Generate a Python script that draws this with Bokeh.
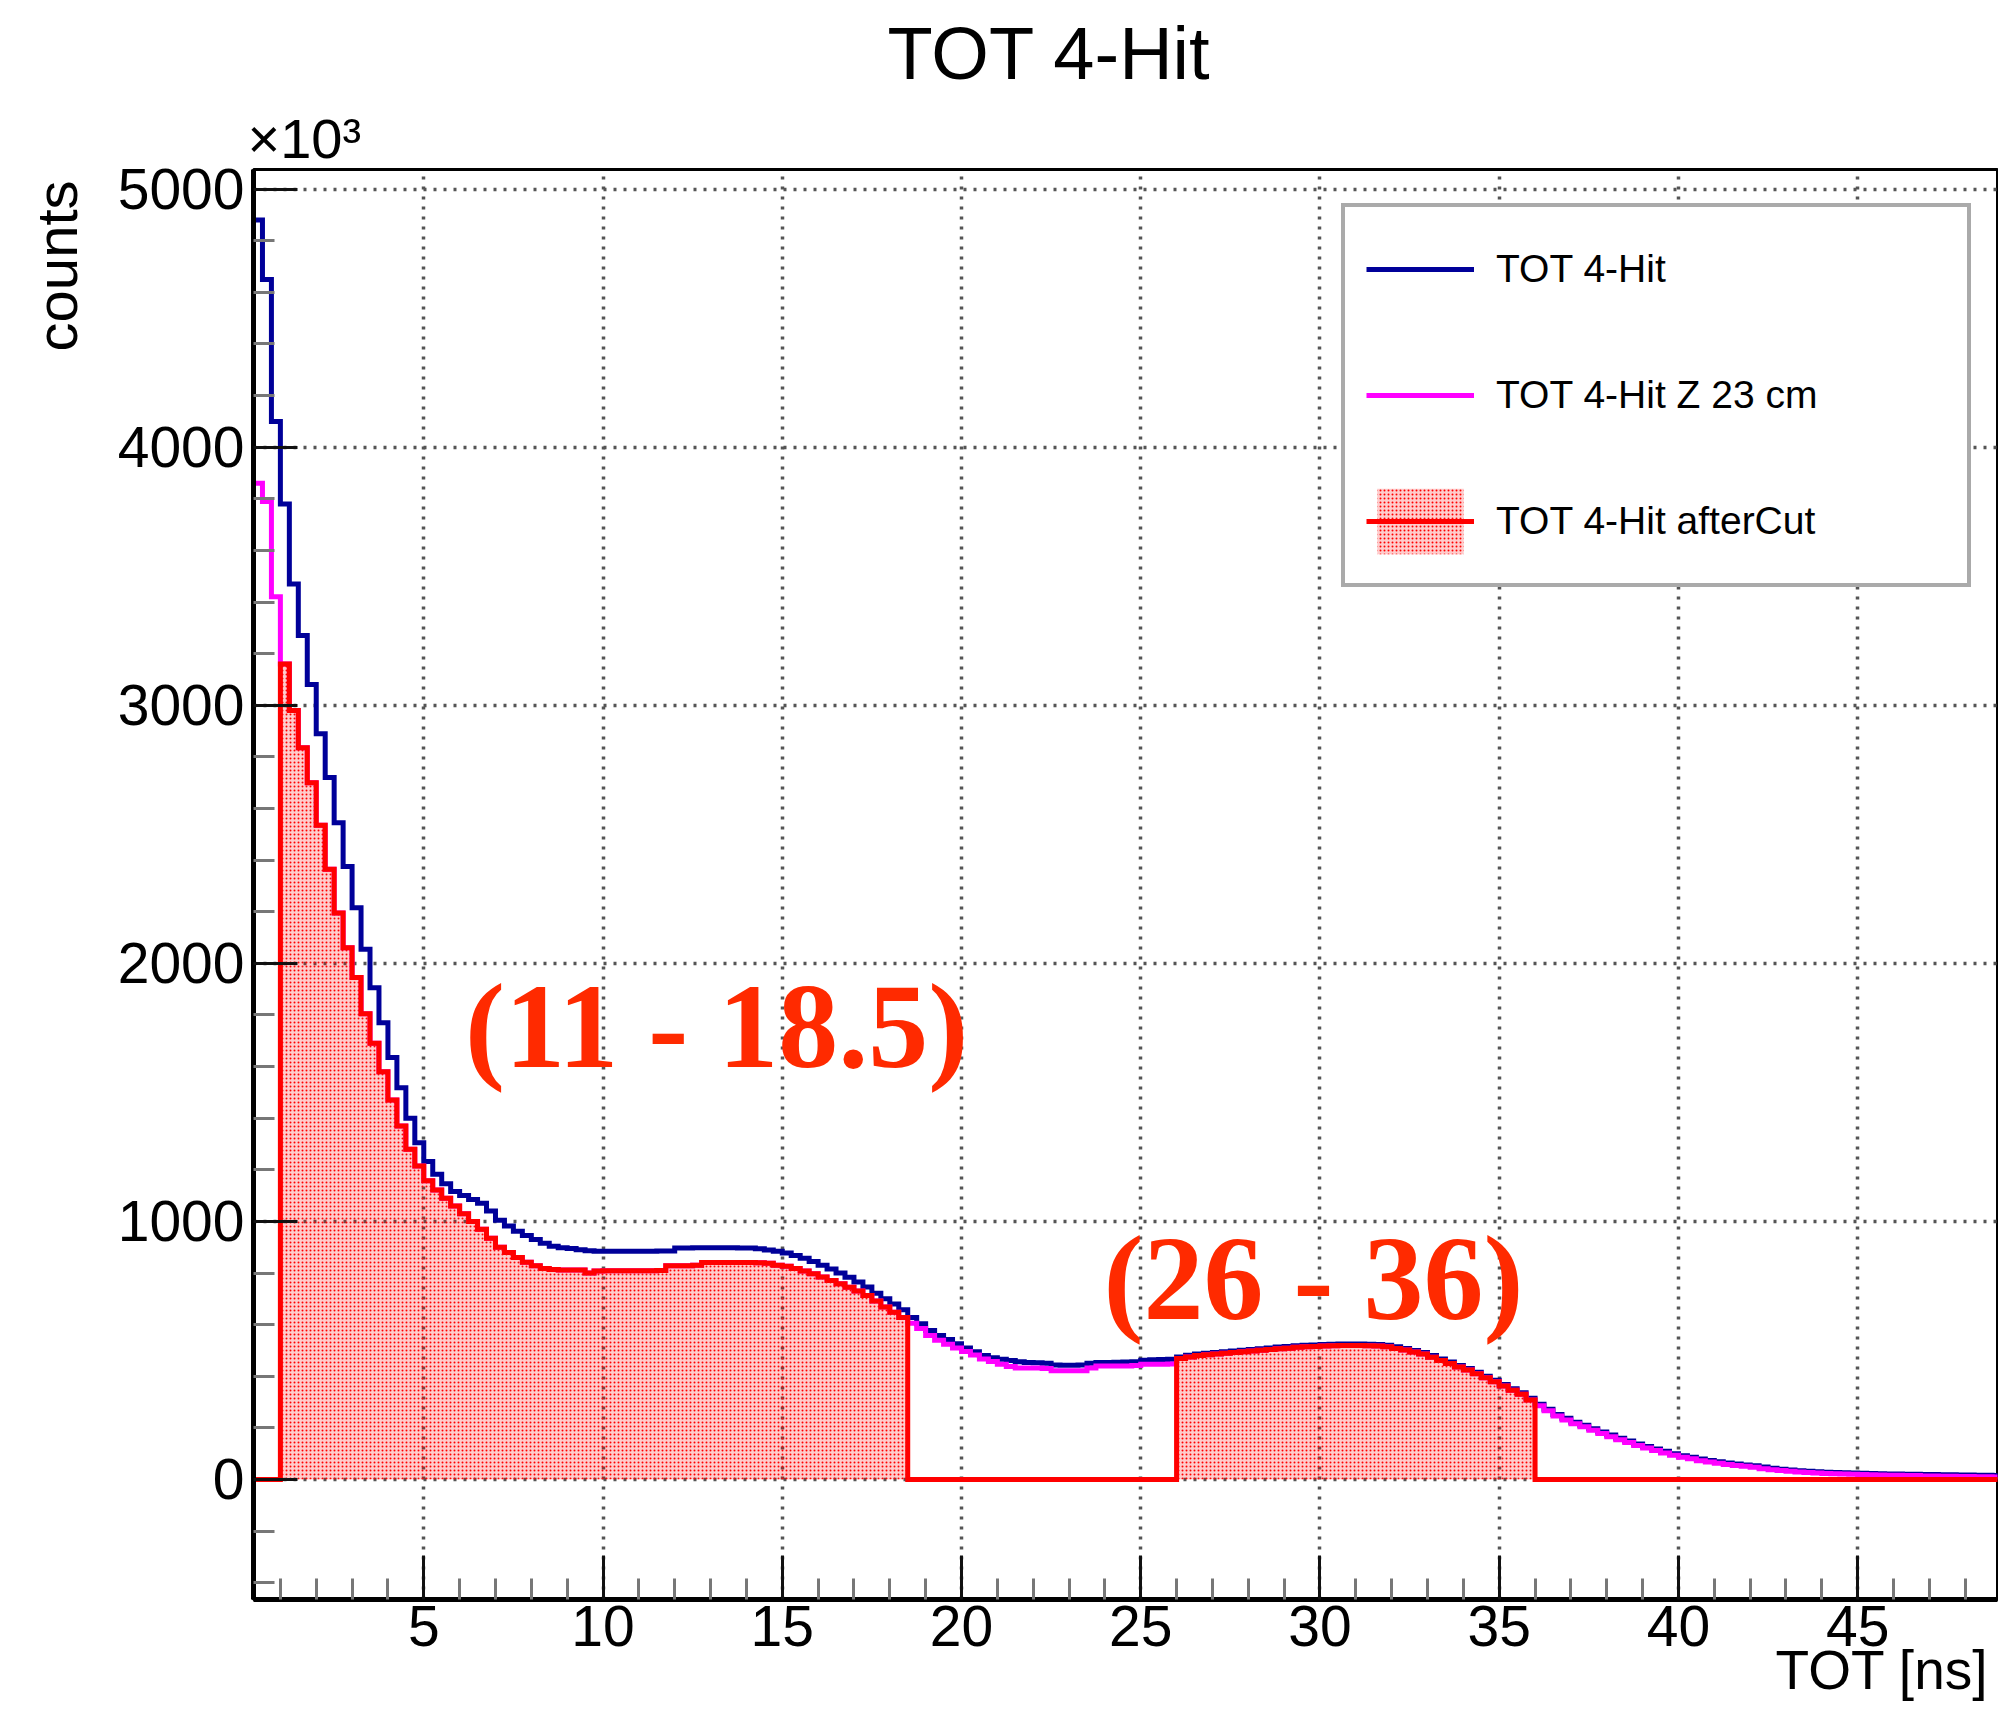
import numpy as np
from bokeh.plotting import figure
from bokeh.models import Range1d, FixedTicker, Label, Legend, LegendItem, Title
from bokeh.embed import file_html
from bokeh.resources import INLINE

# ---------------- data (counts in units of 10^3) ----------------
bin_lo = 0.25          # first bin edge [ns]
bin_width = 0.25       # bin width [ns]

tot_4hit = [
    4880, 4650, 4100, 3780, 3470, 3270, 3080, 2890, 2720, 2545, 2375, 2215, 2055, 1905, 1770, 1635, 1518, 1400, 1305, 1232,
    1183, 1146, 1116, 1100, 1085, 1070, 1040, 1005, 982, 962, 945, 930, 915, 904, 898, 895, 890, 886, 884, 884,
    884, 884, 884, 884, 884, 885, 885, 897, 897, 898, 898, 898, 898, 898, 897, 897, 894, 889, 884, 878,
    868, 857, 845, 830, 816, 800, 784, 765, 746, 722, 700, 680, 658, 628, 603, 577, 558, 542, 526, 510,
    495, 480, 472, 466, 461, 456, 453, 452, 450, 444, 443, 443, 444, 450, 453, 453, 454, 455, 456, 462,
    464, 465, 466, 475, 481, 486, 489, 492, 495, 498, 501, 504, 507, 510, 513, 515, 518, 520, 521, 523,
    524, 525, 525, 525, 524, 523, 520, 514, 508, 500, 492, 480, 467, 455, 442, 430, 416, 400, 385, 368,
    352, 336, 315, 292, 272, 252, 237, 222, 210, 197, 184, 172, 160, 149, 138, 128, 118, 109, 100, 92,
    86, 79, 74, 69, 64, 60, 56, 53, 48, 44, 40, 37, 34, 32, 30, 28, 27, 26, 25, 24,
    23, 22, 21, 21, 20, 20, 19, 19, 18, 18, 17, 17, 16, 16, 15, 15,
]

tot_4hit_z23 = [
    3860, 3790, 3420, 3160, 2980, 2835, 2700, 2535, 2365, 2195, 2060, 1945, 1805, 1690, 1580, 1470, 1370, 1280, 1215, 1158,
    1122, 1090, 1060, 1030, 1000, 970, 935, 900, 880, 860, 842, 828, 818, 814, 812, 812, 812, 800, 808, 809,
    809, 809, 809, 809, 809, 810, 828, 828, 828, 830, 841, 841, 841, 841, 841, 841, 840, 838, 830, 826,
    818, 808, 797, 785, 771, 758, 745, 730, 713, 692, 668, 648, 628, 605, 585, 558, 540, 524, 510, 496,
    482, 467, 457, 447, 438, 432, 432, 432, 430, 421, 421, 421, 421, 432, 440, 440, 440, 440, 442, 447,
    447, 447, 448, 469, 475, 480, 483, 486, 489, 492, 495, 498, 501, 504, 507, 509, 512, 514, 515, 517,
    518, 519, 519, 519, 518, 517, 514, 508, 502, 494, 486, 474, 461, 449, 436, 424, 410, 394, 379, 362,
    346, 330, 308, 286, 266, 246, 231, 216, 204, 191, 178, 166, 154, 143, 132, 122, 112, 103, 94, 86,
    80, 73, 68, 63, 58, 54, 51, 47, 42, 38, 35, 32, 29, 27, 25, 23, 22, 21, 20, 19,
    18, 17, 16, 16, 15, 15, 14, 14, 13, 13, 12, 12, 11, 11, 10, 10,
]

cut_windows = [(1.0, 18.5), (26.0, 36.0)]   # TOT cut ranges [ns]

x_ticks = [5, 10, 15, 20, 25, 30, 35, 40, 45]
y_ticks = [0, 1000, 2000, 3000, 4000, 5000]

series_labels = ["TOT 4-Hit", "TOT 4-Hit Z 23 cm", "TOT 4-Hit afterCut"]
annot_texts = ["(11 - 18.5)", "(26 - 36)"]
annot_x = [6.15, 23.96]
annot_y = [1755, 778]

assert len(tot_4hit) == len(tot_4hit_z23) == 196

# ---------------- derived arrays ----------------
n = len(tot_4hit)
edges = bin_lo + bin_width * np.arange(n + 1)
left, right = edges[:-1], edges[1:]
z23 = np.array(tot_4hit_z23, dtype=float)
mask = np.zeros(n, dtype=bool)
for lo, hi in cut_windows:
    mask |= (left >= lo - 1e-9) & (right <= hi + 1e-9)
after_cut = np.where(mask, z23, 0.0)

def ext(v):
    v = list(v)
    return v + [v[-1]]

X0, X1 = 0.25, 48.9
Y0, Y1 = -465, 5076

p = figure(width=1998, height=1712, x_range=Range1d(X0, X1), y_range=Range1d(Y0, Y1),
           output_backend="svg", toolbar_location=None, title=None,
           min_border_left=253, min_border_right=1, min_border_top=168, min_border_bottom=113,
           background_fill_color="white", border_fill_color="white")

p.outline_line_color = "black"
p.outline_line_width = 3

xa = p.xaxis[0]
ya = p.yaxis[0]
xa.ticker = FixedTicker(ticks=x_ticks, minor_ticks=[v for v in range(1, 50) if v % 5])
ya.ticker = FixedTicker(ticks=y_ticks, minor_ticks=[v for v in range(-400, 5001, 200) if v % 1000])
for ax in (xa, ya):
    ax.axis_line_width = 5
    ax.axis_line_color = "black"
    ax.major_tick_in = 44
    ax.major_tick_out = 0
    ax.minor_tick_in = 21
    ax.minor_tick_out = 0
    ax.major_tick_line_width = 3
    ax.major_tick_line_color = "#111111"
    ax.minor_tick_line_width = 3
    ax.minor_tick_line_color = "#777777"
    ax.major_label_text_font = "Liberation Sans"
    ax.major_label_text_font_size = "57px"
    ax.major_label_text_color = "black"
xa.major_label_standoff = 6
ya.major_label_standoff = 9

p.grid.grid_line_color = "#555555"
p.grid.grid_line_dash = "3 7"
p.grid.grid_line_width = 3.5

LW = 5
blue_r = p.step(x=edges, y=ext(tot_4hit), mode="after", line_color="#000099", line_width=LW, line_join="miter")
mag_r = p.step(x=edges, y=ext(tot_4hit_z23), mode="after", line_color="#ff00ff", line_width=LW, line_join="miter")
fill_r = p.varea_step(x=edges, y1=np.zeros(n + 1), y2=ext(after_cut), step_mode="after",
                      fill_color="#ff0000", fill_alpha=0.2,
                      hatch_pattern="dot", hatch_color="#ff0000", hatch_scale=4, hatch_weight=1.2)
red_r = p.step(x=edges, y=ext(after_cut), mode="after", line_color="#ff0000", line_width=LW, line_join="miter")

legend = Legend(items=[LegendItem(label=series_labels[0], renderers=[blue_r]),
                       LegendItem(label=series_labels[1], renderers=[mag_r]),
                       LegendItem(label=series_labels[2], renderers=[fill_r, red_r])],
                location=(1088, 1012), orientation="vertical", margin=0, padding=21, spacing=44,
                glyph_width=108, glyph_height=82, label_standoff=22, label_width=450, label_height=82,
                label_text_font="Liberation Sans", label_text_font_size="39px", label_text_color="black",
                border_line_color="#555555", border_line_width=4,
                background_fill_color="white", background_fill_alpha=1)
p.add_layout(legend)

# ---------------- texts outside the frame (side panels) ----------------
has_standoff = "standoff" in Title.properties()

def mk_title(text, size, align, valign, offset, standoff):
    kw = dict(text=text, align=align, vertical_align=valign, offset=offset,
              text_font="Liberation Sans", text_font_size=size, text_font_style="normal",
              text_color="black")
    if has_standoff:
        kw["standoff"] = standoff
    return Title(**kw)

# above: first added is nearest the frame
p.add_layout(mk_title("×10³", "56px", "left", "top", -6, -4), "above")
p.add_layout(mk_title("TOT 4-Hit", "74px", "left", "top", 634, 23), "above")
# left: after the y axis
p.add_layout(mk_title("counts", "58px", "right", "top", 11, 47), "left")
# below: after the x axis
p.add_layout(mk_title("TOT [ns]", "55px", "right", "bottom", 9, -24), "below")

for t, ax_, ay_ in zip(annot_texts, annot_x, annot_y):
    p.add_layout(Label(x=ax_, y=ay_, text=t, text_align="left", text_baseline="alphabetic",
                       text_font="Liberation Serif", text_font_style="bold", text_font_size="120px",
                       text_color="#ff2a00"))

open("out.html", "w").write(file_html(p, INLINE))
